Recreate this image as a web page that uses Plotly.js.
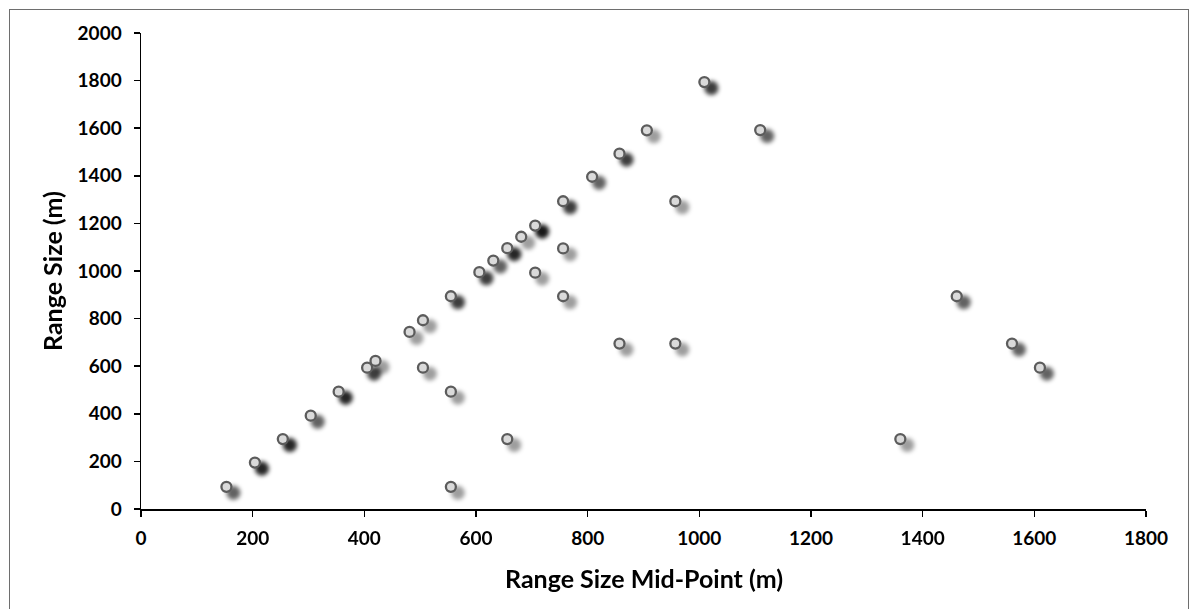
<!DOCTYPE html>
<html>
<head>
<meta charset="utf-8">
<script src="https://cdn.plot.ly/plotly-3.0.1.min.js"></script>
<style>
  html, body { margin: 0; padding: 0; background: #fff; }
  #frame { position: absolute; left: 9px; top: 9px; width: 1180px; height: 640px; border: 1px solid #6e6e6e; box-sizing: border-box; pointer-events: none; z-index: 5; }
  #chart { position: absolute; left: 0; top: 0; width: 1193px; height: 609px; }
</style>
</head>
<body>
<div id="chart"></div>
<div id="frame"></div>
<script>
// Range mid-point (m), range size (m), and number of coincident observations
const midPoint  = [153, 204, 254, 304, 354, 405, 420, 481, 505, 505, 555, 555, 555,
                   606, 631, 656, 681, 706, 706, 756, 756, 756, 808, 857, 906,
                   1009, 1109, 957, 857, 957, 656, 1360, 1461, 1560, 1610];
const rangeSize = [93, 195, 294, 392, 493, 594, 622, 744, 793, 594, 894, 493, 93,
                   995, 1044, 1096, 1144, 1191, 993, 1293, 1095, 894, 1396, 1493, 1591,
                   1794, 1592, 1293, 695, 695, 294, 294, 894, 695, 594];
const counts    = [2, 4, 4, 2, 4, 3, 1, 1, 1, 1, 3, 1, 1,
                   3, 2, 4, 1, 5, 1, 3, 1, 1, 2, 3, 1,
                   3, 2, 1, 1, 1, 1, 1, 2, 2, 2];

const xTicks = [0, 200, 400, 600, 800, 1000, 1200, 1400, 1600, 1800];
const yTicks = [0, 200, 400, 600, 800, 1000, 1200, 1400, 1600, 1800, 2000];
const xTitle = 'Range Size Mid-Point (m)';
const yTitle = 'Range Size (m)';

// expand observations (duplicates darken the shadow)
const obsX = [], obsY = [];
for (let i = 0; i < midPoint.length; i++) {
  for (let k = 0; k < counts[i]; k++) { obsX.push(midPoint[i]); obsY.push(rangeSize[i]); }
}

const fontFam = 'Lato, "Open Sans", sans-serif';

const shadow = {
  x: obsX, y: obsY, type: 'scatter', mode: 'markers', hoverinfo: 'skip',
  marker: { size: 14, color: 'rgba(0,0,0,0.38)', line: { width: 0 } },
  showlegend: false
};
const points = {
  x: midPoint, y: rangeSize, type: 'scatter', mode: 'markers',
  marker: { size: 10, color: '#dadada', line: { width: 2.3, color: '#5c5c5c' } },
  showlegend: false
};

const layout = {
  width: 1193, height: 609,
  margin: { l: 140.5, r: 47, t: 33, b: 100 },
  paper_bgcolor: '#ffffff', plot_bgcolor: '#ffffff',
  font: { family: fontFam, color: '#000', size: 19 },
  xaxis: {
    range: [0, 1800], tickvals: xTicks, ticktext: xTicks.map(String),
    showgrid: false, zeroline: false, showline: true, linecolor: '#000', linewidth: 1.5,
    ticks: 'outside', ticklen: 6, tickcolor: '#000', tickwidth: 1.5, ticklabelstandoff: 6,
    tickfont: { family: fontFam, size: 19, color: '#000', weight: 'bold' },
    fixedrange: true
  },
  yaxis: {
    range: [0, 2000], tickvals: yTicks, ticktext: yTicks.map(String),
    showgrid: false, zeroline: false, showline: true, linecolor: '#000', linewidth: 1.5,
    ticks: 'outside', ticklen: 6, tickcolor: '#000', tickwidth: 1.5, ticklabelstandoff: 8,
    tickfont: { family: fontFam, size: 19, color: '#000', weight: 'bold' },
    title: { text: '<b>' + yTitle + '</b>', font: { family: fontFam, size: 25, color: '#000' }, standoff: 8 },
    fixedrange: true
  },
  annotations: [{
    text: '<b>' + xTitle + '</b>', xref: 'paper', yref: 'paper', x: 0.5, y: -0.144,
    xanchor: 'center', yanchor: 'middle', showarrow: false,
    font: { family: fontFam, size: 25, color: '#000' }
  }]
};

Plotly.newPlot('chart', [shadow, points], layout, { staticPlot: true, displayModeBar: false }).then(function (gd) {
  const svg = gd.querySelector('svg.main-svg');
  const ns = 'http://www.w3.org/2000/svg';
  let defs = svg.querySelector('defs');
  if (!defs) { defs = document.createElementNS(ns, 'defs'); svg.insertBefore(defs, svg.firstChild); }
  const filter = document.createElementNS(ns, 'filter');
  filter.setAttribute('id', 'shadowBlur');
  filter.setAttribute('x', '-50%'); filter.setAttribute('y', '-50%');
  filter.setAttribute('width', '200%'); filter.setAttribute('height', '200%');
  const blur = document.createElementNS(ns, 'feGaussianBlur');
  blur.setAttribute('stdDeviation', '2.3');
  filter.appendChild(blur);
  defs.appendChild(filter);
  const traces = gd.querySelectorAll('.scatterlayer .trace');
  if (traces.length) {
    const pts = traces[0].querySelector('.points');
    if (pts) {
      pts.setAttribute('transform', 'translate(7,6)');
      pts.setAttribute('filter', 'url(#shadowBlur)');
    }
  }
});
</script>
</body>
</html>
